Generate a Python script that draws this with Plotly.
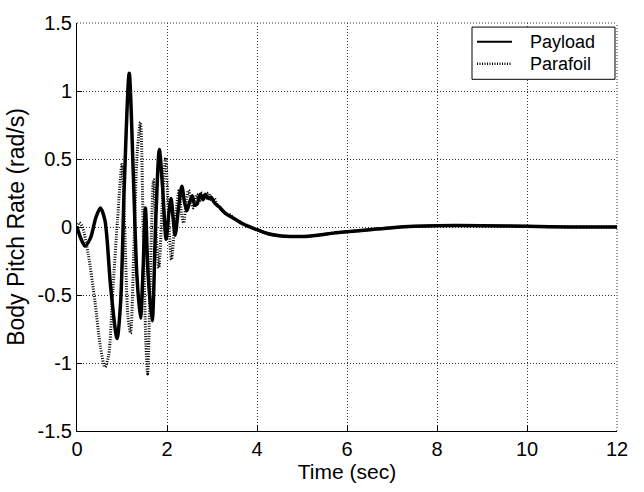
import plotly.graph_objects as go

# ---- data ----
payload_t = [0.00, 0.08, 0.18, 0.30, 0.42, 0.52, 0.62, 0.75, 0.89, 0.97, 1.05, 1.16, 1.25, 1.33,
             1.41, 1.47, 1.52, 1.58, 1.67, 1.75, 1.83, 1.90, 1.98, 2.04, 2.09, 2.14, 2.18, 2.26,
             2.33, 2.39, 2.44, 2.50, 2.56, 2.62, 2.67, 2.74, 2.80, 2.85, 2.92, 2.98, 3.05, 3.15,
             3.30, 3.50, 3.70, 4.00, 4.25, 4.50, 4.75, 5.00, 5.35, 5.70, 6.00, 6.50, 7.00, 7.50,
             8.00, 9.00, 10.00, 11.00, 12.00]
payload_v = [0.00, -0.08, -0.14, -0.08, 0.07, 0.14, 0.05, -0.45, -0.82, -0.55, 0.30, 1.13, 0.40, -0.35,
             -0.67, -0.30, 0.14, -0.35, -0.69, 0.05, 0.57, 0.30, -0.09, 0.10, 0.21, 0.05, -0.06, 0.15,
             0.30, 0.18, 0.12, 0.18, 0.23, 0.16, 0.17, 0.24, 0.20, 0.24, 0.21, 0.22, 0.18, 0.15,
             0.10, 0.06, 0.02, -0.02, -0.05, -0.065, -0.07, -0.07, -0.06, -0.045, -0.035, -0.02, -0.005, 0.005,
             0.01, 0.01, 0.005, 0.0, 0.0]

parafoil_t = [0.00, 0.05, 0.12, 0.25, 0.40, 0.52, 0.62, 0.70, 0.80, 0.90, 1.00, 1.06, 1.13, 1.19,
              1.26, 1.34, 1.41, 1.47, 1.53, 1.57, 1.62, 1.70, 1.77, 1.82, 1.90, 1.97, 2.03, 2.10,
              2.18, 2.27, 2.32, 2.37, 2.43, 2.48, 2.54, 2.59, 2.66, 2.72, 2.78, 2.85, 2.92, 2.98,
              3.05, 3.12, 3.20, 3.30, 3.40, 3.50, 3.70, 4.00, 4.25, 4.50, 4.75, 5.00, 5.35, 5.70,
              6.00, 6.50, 7.00, 7.50, 8.00, 9.00, 10.00, 11.00, 12.00]
parafoil_v = [0.00, 0.03, 0.00, -0.20, -0.55, -0.88, -1.03, -0.95, -0.45, 0.05, 0.46, 0.00, -0.65, -0.78,
              -0.20, 0.55, 0.77, 0.00, -0.85, -1.08, -0.50, 0.35, -0.10, -0.30, 0.20, 0.51, 0.10, -0.24,
              0.05, 0.27, 0.10, 0.03, 0.20, 0.27, 0.18, 0.14, 0.24, 0.19, 0.25, 0.21, 0.25, 0.20,
              0.21, 0.16, 0.14, 0.10, 0.09, 0.06, 0.025, -0.02, -0.05, -0.065, -0.07, -0.07, -0.06, -0.045,
              -0.035, -0.02, -0.005, 0.005, 0.01, 0.01, 0.005, 0.0, 0.0]

series_names = ["Payload", "Parafoil"]

x_ticks = [0, 2, 4, 6, 8, 10, 12]
x_tick_labels = ["0", "2", "4", "6", "8", "10", "12"]
y_ticks = [-1.5, -1, -0.5, 0, 0.5, 1, 1.5]
y_tick_labels = ["-1.5", "-1", "-0.5", "0", "0.5", "1", "1.5"]

FONT = "Arial, Liberation Sans, sans-serif"
DOT = "1px,1.5px"
GRID_DASH = "1px,2px"
GRID_COLOR = "#333"

fig = go.Figure()
fig.add_trace(go.Scatter(x=parafoil_t, y=parafoil_v, mode="lines", name=series_names[1],
                         showlegend=False,
                         line=dict(color="black", width=3, dash=DOT, shape="spline", smoothing=0.8)))
fig.add_trace(go.Scatter(x=payload_t, y=payload_v, mode="lines", name=series_names[0],
                         showlegend=False,
                         line=dict(color="black", width=3.5, shape="spline", smoothing=0.8)))

axis_common = dict(showline=True, linecolor="black", linewidth=1, mirror=False,
                   ticks="inside", ticklen=5, tickcolor="black",
                   showgrid=True, gridcolor=GRID_COLOR, gridwidth=1, griddash=GRID_DASH,
                   zeroline=False, tickfont=dict(family=FONT, size=20, color="black"))

fig.update_layout(
    width=644, height=492,
    margin=dict(l=77, r=27, t=17, b=49),
    paper_bgcolor="white", plot_bgcolor="white",
    font=dict(family=FONT, color="black"),
    showlegend=False,
    xaxis=dict(range=[0, 12], tickvals=x_ticks, ticktext=x_tick_labels,
               title=dict(text="Time (sec)", font=dict(family=FONT, size=21), standoff=5),
               **axis_common),
    yaxis=dict(range=[-1.5, 1.5], tickvals=y_ticks, ticktext=y_tick_labels,
               title=dict(text="Body Pitch Rate (rad/s)", font=dict(family=FONT, size=23), standoff=6),
               **axis_common),
)

# dotted top/right border (MATLAB "box off" look)
fig.add_shape(type="line", xref="paper", yref="paper", x0=0, x1=1, y0=1, y1=1,
              line=dict(color=GRID_COLOR, width=1, dash=GRID_DASH))
fig.add_shape(type="line", xref="paper", yref="paper", x0=1, x1=1, y0=0, y1=1,
              line=dict(color=GRID_COLOR, width=1, dash=GRID_DASH))

# legend box (drawn to match the compact MATLAB legend)
fig.add_shape(type="rect", xref="paper", yref="paper", x0=0.7315, x1=0.9963, y0=0.862, y1=0.990,
              line=dict(color="black", width=1), fillcolor="white", layer="above")
legend_rows = [0.954, 0.900]
legend_dash = ["solid", DOT]
legend_width = [2, 2.5]
for name, yy, dsh, lw in zip(series_names, legend_rows, legend_dash, legend_width):
    fig.add_shape(type="line", xref="paper", yref="paper", x0=0.7407, x1=0.8056, y0=yy, y1=yy,
                  line=dict(color="black", width=lw, dash=dsh), layer="above")
    fig.add_annotation(xref="paper", yref="paper", x=0.835, y=yy, text=name, showarrow=False,
                       xanchor="left", yanchor="middle",
                       font=dict(family=FONT, size=18, color="black"))

fig.write_html("out.html")
